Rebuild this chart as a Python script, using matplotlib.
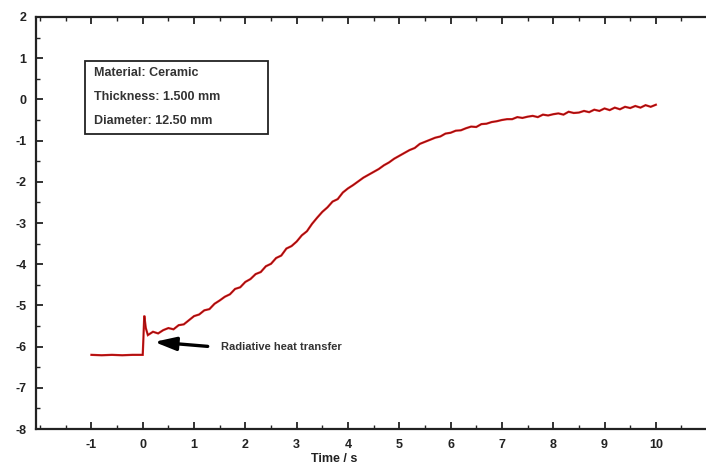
import matplotlib
matplotlib.use('Agg')
import matplotlib.pyplot as plt
from matplotlib.patches import Rectangle
from matplotlib.ticker import MultipleLocator

plt.rcParams['font.family'] = ['Liberation Sans', 'DejaVu Sans']
plt.rcParams['axes.unicode_minus'] = False

# baseline before the pulse
base_t = [-1.0, -0.8, -0.6, -0.4, -0.2, 0.0]
base_v = [-6.2, -6.21, -6.2, -6.21, -6.2, -6.2]

# radiative spike right after t = 0
spike_t = [0.01, 0.03, 0.06, 0.1]
spike_v = [-5.9, -5.25, -5.55, -5.72]

# rear-face signal, read every 0.1 s
time_s = [0.2, 0.3, 0.4, 0.5, 0.6, 0.7, 0.8, 0.9, 1.0,
          1.1, 1.2, 1.3, 1.4, 1.5, 1.6, 1.7, 1.8, 1.9, 2.0,
          2.1, 2.2, 2.3, 2.4, 2.5, 2.6, 2.7, 2.8, 2.9, 3.0,
          3.1, 3.2, 3.3, 3.4, 3.5, 3.6, 3.7, 3.8, 3.9, 4.0,
          4.1, 4.2, 4.3, 4.4, 4.5, 4.6, 4.7, 4.8, 4.9, 5.0,
          5.1, 5.2, 5.3, 5.4, 5.5, 5.6, 5.7, 5.8, 5.9, 6.0,
          6.1, 6.2, 6.3, 6.4, 6.5, 6.6, 6.7, 6.8, 6.9, 7.0,
          7.1, 7.2, 7.3, 7.4, 7.5, 7.6, 7.7, 7.8, 7.9, 8.0,
          8.1, 8.2, 8.3, 8.4, 8.5, 8.6, 8.7, 8.8, 8.9, 9.0,
          9.1, 9.2, 9.3, 9.4, 9.5, 9.6, 9.7, 9.8, 9.9, 10.0]
signal = [-5.64, -5.68, -5.6, -5.55, -5.58, -5.48, -5.46, -5.36, -5.26,
          -5.22, -5.12, -5.09, -4.96, -4.88, -4.79, -4.73, -4.6, -4.56, -4.43,
          -4.36, -4.24, -4.19, -4.05, -3.99, -3.85, -3.79, -3.62, -3.56, -3.45,
          -3.3, -3.2, -3.02, -2.87, -2.73, -2.62, -2.48, -2.42, -2.26, -2.16,
          -2.08, -1.99, -1.9, -1.83, -1.76, -1.69, -1.6, -1.53, -1.44, -1.37,
          -1.3, -1.23, -1.18, -1.08, -1.03, -0.98, -0.93, -0.9, -0.83, -0.81,
          -0.76, -0.75, -0.7, -0.66, -0.67, -0.6, -0.59, -0.55, -0.53, -0.5,
          -0.48, -0.48, -0.43, -0.45, -0.42, -0.4, -0.43, -0.37, -0.39, -0.36,
          -0.34, -0.37, -0.3, -0.33, -0.32, -0.28, -0.31, -0.25, -0.28, -0.22,
          -0.26, -0.2, -0.24, -0.18, -0.21, -0.16, -0.2, -0.14, -0.18, -0.13]

info_lines = ['Material: Ceramic', 'Thickness: 1.500 mm', 'Diameter: 12.50 mm']

fig = plt.figure(figsize=(7.06, 4.68), dpi=100)
ax = fig.add_axes([0.051, 0.0833, 0.947, 0.8804])

tt = base_t + spike_t + time_s
vv = base_v + spike_v + signal
ax.plot(tt, vv, color='#e01a1a', lw=1.6, solid_joinstyle='miter')
ax.plot(tt, vv, color='#5a0a0a', lw=0.6, alpha=0.7)

ax.set_xlim(-2.08, 10.95)
ax.set_ylim(-8, 2)
ax.xaxis.set_major_locator(MultipleLocator(1))
ax.xaxis.set_minor_locator(MultipleLocator(0.5))
ax.yaxis.set_major_locator(MultipleLocator(1))
ax.yaxis.set_minor_locator(MultipleLocator(0.5))
ax.set_xticks(range(-1, 11))

ax.spines['right'].set_visible(False)
for s in ['left', 'bottom', 'top']:
    ax.spines[s].set_linewidth(1.6)
    ax.spines[s].set_color('#222222')

ax.tick_params(axis='x', which='both', direction='in', top=True, bottom=True,
               labelsize=9, pad=7, colors='#222222')
ax.tick_params(axis='y', which='both', direction='in', left=True, right=False,
               labelsize=9, pad=7, colors='#222222')
ax.tick_params(which='major', length=5, width=1.3)
ax.tick_params(which='minor', length=3, width=1.0)
for lab in ax.get_xticklabels() + ax.get_yticklabels():
    lab.set_fontweight('bold')

ax.set_xlabel('Time / s', fontsize=9, fontweight='bold', color='#222222')
ax.xaxis.set_label_coords((335 - 36) / 670, -0.057)

# info box
ax.add_patch(Rectangle((-1.13, -0.84), 3.58, 1.77, fill=False,
                       edgecolor='#222222', lw=1.3))
for i, line in enumerate(info_lines):
    ax.text(-0.95, 0.64 - i * 0.58, line, fontsize=9, fontweight='bold',
            color='#333333', va='center', ha='left')

# arrow to the spike
ax.annotate('', xy=(0.17, -5.88), xytext=(1.32, -6.0),
            arrowprops=dict(arrowstyle='-|>,head_length=1.3,head_width=0.4',
                            color='black', lw=2.4))
ax.text(1.52, -6.0, 'Radiative heat transfer', fontsize=8, fontweight='bold',
        color='#333333', va='center', ha='left')

fig.savefig('out.png', dpi=100)
